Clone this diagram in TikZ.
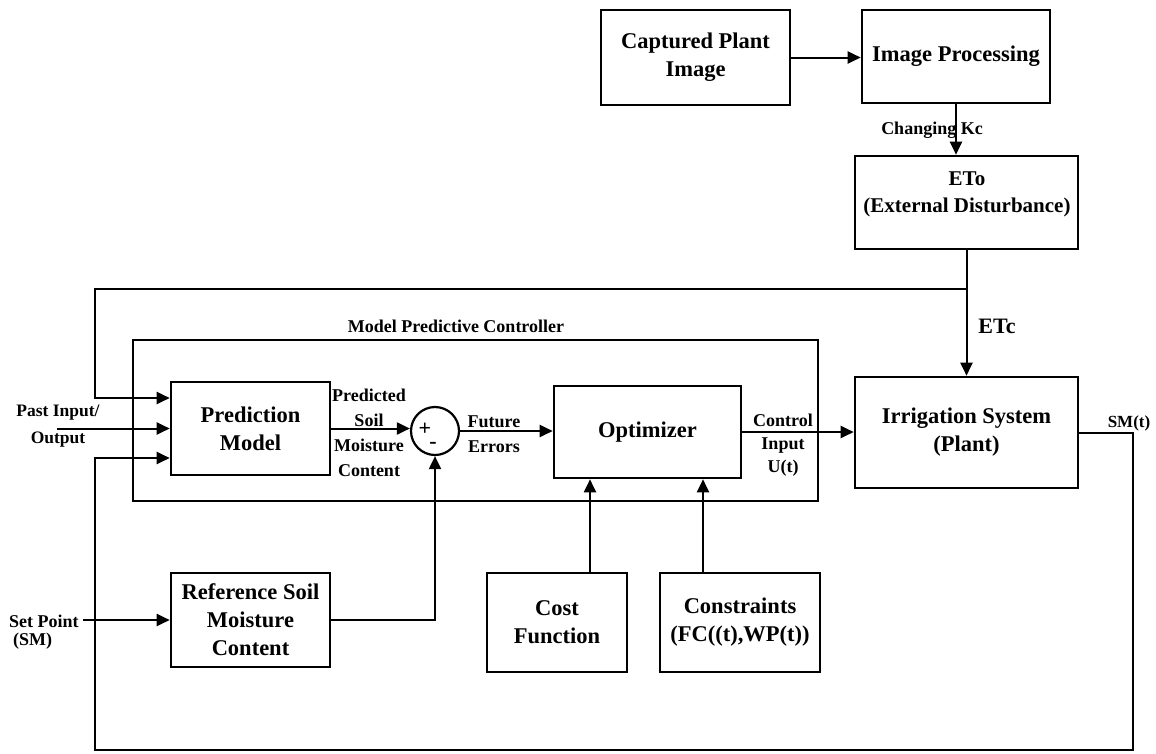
\documentclass[tikz,border=0pt]{standalone}
\usepackage{fontspec}
\setmainfont{Liberation Serif}
\usetikzlibrary{arrows.meta,calc}
\begin{document}
\begin{tikzpicture}[x=1pt,y=-1pt,
  box/.style={draw, line width=2.6pt, align=center, inner sep=0pt, font=\bfseries\fontsize{22.5}{28}\selectfont},
  lbl/.style={align=center, inner sep=0pt, font=\bfseries\fontsize{18}{24}\selectfont},
  conn/.style={line width=2pt},
  arr/.style={conn, -{Triangle[length=13pt,width=12pt]}},
]
\useasboundingbox[fill=white] (0,0) rectangle (1156,753);

% boxes
\node[box, minimum width=189pt, minimum height=95pt] (cap) at (695.5,57.5) {Captured Plant\\Image};
\node[box, minimum width=188pt, minimum height=93pt] (imgp) at (956,56.5) {Image Processing};
\node[box, minimum width=223pt, minimum height=93pt] (eto) at (966.5,202.5) {};
\node[align=center, inner sep=0pt, font=\bfseries\fontsize{21}{27}\selectfont] (etotxt) at (967,194) {ETo\\(External Disturbance)};
\node[draw, line width=2pt, minimum width=685pt, minimum height=161pt, inner sep=0pt] (mpc) at (475.5,420.5) {};
\node[lbl] (mpclbl) at (456,326) {Model Predictive Controller};
\node[box, minimum width=159pt, minimum height=93pt] (pred) at (250.5,428.5) {Prediction\\Model};
\node[box, minimum width=187pt, minimum height=92pt] (opt) at (647.5,432) {Optimizer};
\node[box, minimum width=223pt, minimum height=111pt] (irr) at (966.5,432.5) {Irrigation System\\(Plant)};
\node[box, minimum width=140pt, minimum height=99pt] (cost) at (557,622.5) {Cost\\Function};
\node[box, minimum width=160pt, minimum height=99pt] (cons) at (740,622.5) {Constraints\\(FC((t),WP(t))};
\node[box, minimum width=159pt, minimum height=94pt] (ref) at (250.5,620) {Reference Soil\\Moisture\\Content};
\node[draw, circle, line width=2.2pt, minimum size=48pt, inner sep=0pt] (sum) at (435,431) {};
\node[inner sep=0pt, font=\bfseries\fontsize{22}{24}\selectfont] (plus) at (425,429) {+};
\node[inner sep=0pt, font=\bfseries\fontsize{22}{24}\selectfont] (minus) at (433,445) {-};

% labels
\node[lbl] (kc) at (932,130) {Changing Kc};
\node[inner sep=0pt, font=\bfseries\fontsize{22}{26}\selectfont] (etc) at (997,326) {ETc};
\node[lbl, font=\bfseries\fontsize{18}{25}\selectfont] (psmc) at (369,433) {Predicted\\Soil\\Moisture\\Content};
\node[lbl, font=\bfseries\fontsize{18}{25}\selectfont] (fe) at (494,434) {Future\\Errors};
\node[lbl, font=\bfseries\fontsize{18}{23}\selectfont] (ci) at (783,445) {Control\\Input\\U(t)};
\node[lbl, font=\bfseries\fontsize{17.5}{27}\selectfont] (pio) at (58,426) {Past Input/\\Output};
\node[lbl, anchor=west] (setp) at (9,621) {Set Point};
\node[lbl, anchor=west] (smlbl) at (13,641) {(SM)};
\node[lbl, font=\bfseries\fontsize{17}{20}\selectfont] (smt) at (1129,423) {SM(t)};

% coordinates
\coordinate (fbl) at (95,289);
\coordinate (j) at (eto.south |- fbl);
\coordinate (pin) at (57,428.5);
\coordinate (smr) at (1133,432.5);
\coordinate (blr) at (1133,750);
\coordinate (bll) at (95,750);
\coordinate (sp) at (83,620);

% connectors
\draw[arr] (cap.east) -- (cap.east -| imgp.west);
\draw[arr] (imgp.south) -- (imgp.south |- eto.north);
\draw[arr] (eto.south) -- (irr.north);
\draw[arr] (j) -- (fbl) |- ([yshift=30.5pt]pred.west);
\draw[arr] (pin) -- (pred.west);
\draw[arr] (irr.east) -- (smr) -- (blr) -- (bll) |- ([yshift=-29.5pt]pred.west);
\draw[arr] (pred.east) -- (pred.east -| sum.west);
\draw[arr] (sum.east) -- (sum.east -| opt.west);
\draw[arr] (ref.east) -| (sum.south);
\draw[arr] (opt.east) -- (opt.east -| irr.west);
\draw[arr] ([xshift=33pt]cost.north) -- ([xshift=33pt]cost.north |- opt.south);
\draw[arr] ([xshift=-37pt]cons.north) -- ([xshift=-37pt]cons.north |- opt.south);
\draw[arr] (sp) -- (ref.west);
\end{tikzpicture}
\end{document}
